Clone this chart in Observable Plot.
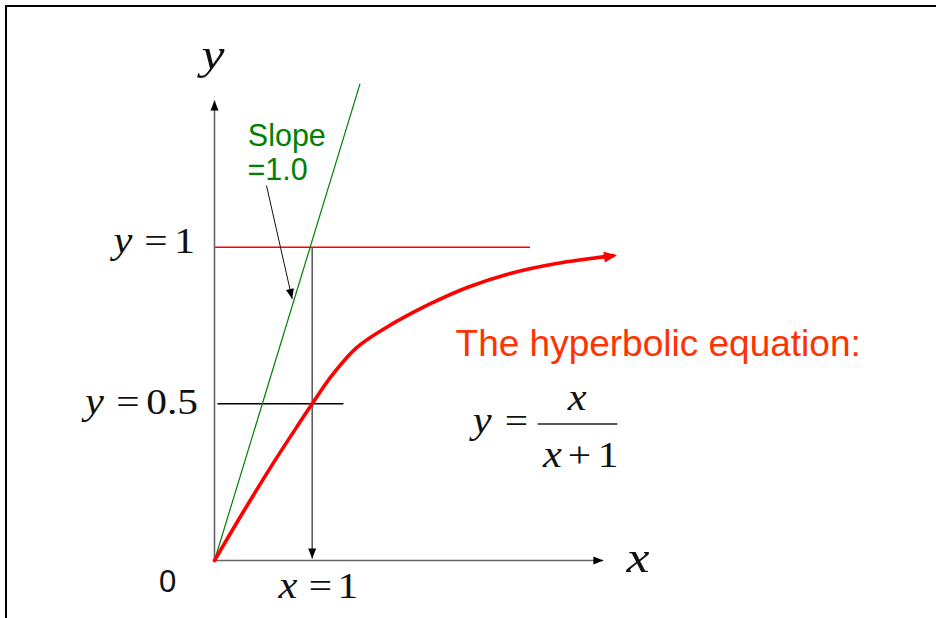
<!DOCTYPE html>
<html>
<head>
<meta charset="utf-8">
<script src="https://cdn.jsdelivr.net/npm/d3@7"></script>
<script src="https://cdn.jsdelivr.net/npm/@observablehq/plot@0.6"></script>
<style>
  html, body { margin: 0; padding: 0; background: white; }
  #wrap { position: relative; width: 936px; height: 618px; overflow: hidden; }
  #frame { position: absolute; left: 5px; top: 5px; width: 940px; height: 620px;
           border-top: 2px solid #000; border-left: 2px solid #000; pointer-events: none; }
  #chart { position: absolute; left: 0; top: 0; }
</style>
</head>
<body>
<div id="wrap"><div id="chart"></div><div id="frame"></div></div>
<script>
// ---- data ----
// hand-drawn hyperbolic curve y = x/(x+1) as sketched
const curveX = [0, 0.3, 0.6, 0.85, 1.0, 1.2, 1.45, 1.75, 2.2, 2.6, 3.0, 3.5, 4.08];
const curveY = [0, 0.158, 0.31, 0.43, 0.5, 0.59, 0.678, 0.742, 0.818, 0.873, 0.914, 0.948, 0.973];

// straight segments [x1, y1, x2, y2]
const axisSegs   = [[0, 0, 0, 1.468], [0, 0, 3.98, 0]];
const dropSeg    = [[1, 1, 1, 0.006]];
const asymptote  = [[0, 1, 3.23, 1]];
const halfLine   = [[0.03, 0.5, 1.32, 0.5]];
const slopeLine  = [[0, 0, 1.49, 1.522]];
const pointerSeg = [[0.532, 1.197, 0.795, 0.835]];

// arrow heads: tip x, tip y, direction (degrees clockwise from up)
const blackHeads = [[0, 1.468, 0], [3.98, 0, 90], [1, 0.006, 180], [0.795, 0.835, 167]];
const redHeads   = [[4.12, 0.974, 82]];

// math labels: text, x, y (baseline)
const mathItalic = [
  ["y", -0.937, 0.98], ["y", -1.228, 0.468], ["x", 0.752, -0.121],
  ["y", 2.74, 0.4085], ["x", 3.712, 0.481], ["x", 3.46, 0.298]
];
const mathRoman = [
  ["=", -0.599, 0.98], ["1", -0.307, 0.98],
  ["=", -0.885, 0.468], ["0.5", -0.433, 0.468],
  ["=", 1.085, -0.121], ["1", 1.366, -0.121],
  ["=", 3.091, 0.4085], ["+", 3.736, 0.298], ["1", 4.028, 0.298]
];
const axisNames = [["y", -0.015, 1.570], ["x", 4.335, -0.037]];
const fractionBar = [[3.309, 0.436, 4.122, 0.436]];
const originLabel = [["0", -0.481, -0.101]];
const slopeLabel = [["Slope", 0.341, 1.3246], ["=1.0", 0.338, 1.2129]];
const eqTitle = [["The hyperbolic equation:", 2.467, 0.6543]];

// ---- build ----
const curve = curveX.map((x, i) => ({x, y: curveY[i]}));
const seg = (arr) => arr.map(([x1, y1, x2, y2]) => ({x1, y1, x2, y2}));
const heads = (arr) => arr.map(([x, y, r]) => ({x, y, r}));
const labels = (arr) => arr.map(([text, x, y]) => ({text, x, y}));

const arrowHead = (len, half) => ({
  draw(ctx) { ctx.moveTo(0, 0); ctx.lineTo(-half, len); ctx.lineTo(half, len); ctx.closePath(); }
});

const serif = "Liberation Serif, Times New Roman, serif";
const sans = "Liberation Sans, Arial, sans-serif";

const linkMark = (arr, stroke, w) => Plot.link(seg(arr), {x1: "x1", y1: "y1", x2: "x2", y2: "y2", stroke, strokeWidth: w});

const plot = Plot.plot({
  width: 936,
  height: 618,
  margin: 0,
  style: {background: "transparent", overflow: "visible"},
  x: {domain: [0, 1], range: [214, 311.7], axis: null},
  y: {domain: [0, 1], range: [560, 246.7], axis: null},
  marks: [
    linkMark(asymptote, "#ff0000", 1.5),
    linkMark(axisSegs, "#666", 1.6),
    linkMark(dropSeg, "#555", 1.5),
    linkMark(halfLine, "#000", 1.5),
    linkMark(slopeLine, "#008000", 1.2),
    linkMark(pointerSeg, "#111", 1),
    Plot.line(curve, {x: "x", y: "y", stroke: "#ff0000", strokeWidth: 3.6, curve: "catmull-rom", strokeLinecap: "round"}),
    Plot.dot(heads(blackHeads), {x: "x", y: "y", rotate: "r", symbol: arrowHead(10, 4), fill: "#000", stroke: "none"}),
    Plot.dot(heads(redHeads), {x: "x", y: "y", rotate: "r", symbol: arrowHead(13, 5.5), fill: "#ff0000", stroke: "none"}),
    linkMark(fractionBar, "#222", 1.5),
    Plot.text(labels(axisNames), {x: "x", y: "y", text: "text", fontFamily: serif, fontStyle: "italic", fontSize: 45, fill: "#111", textAnchor: "middle", lineAnchor: "bottom"}),
    Plot.text(labels(mathItalic), {x: "x", y: "y", text: "text", fontFamily: serif, fontStyle: "italic", fontSize: 37, fill: "#111", textAnchor: "middle", lineAnchor: "bottom"}),
    Plot.text(labels(mathRoman), {x: "x", y: "y", text: "text", fontFamily: serif, fontSize: 36, fill: "#111", textAnchor: "middle", lineAnchor: "bottom"}),
    Plot.text(labels(originLabel), {x: "x", y: "y", text: "text", fontFamily: sans, fontSize: 31, fill: "#111", textAnchor: "middle", lineAnchor: "bottom"}),
    Plot.text(labels(slopeLabel), {x: "x", y: "y", text: "text", fontFamily: sans, fontSize: 30.5, fill: "#008000", textAnchor: "start", lineAnchor: "bottom"}),
    Plot.text(labels(eqTitle), {x: "x", y: "y", text: "text", fontFamily: sans, fontSize: 37, fill: "#ff3300", textAnchor: "start", lineAnchor: "bottom"})
  ]
});

// the slide's math glyphs are horizontally stretched: widen serif text around its anchor
d3.select(plot).selectAll("g[font-family^='Liberation Serif'] text").each(function () {
  const t = this.getAttribute("transform");
  if (t) {
    this.setAttribute("transform", t + " scale(1.15,1)");
  } else {
    const x = +this.getAttribute("x") || 0, y = +this.getAttribute("y") || 0;
    this.setAttribute("transform", `translate(${x},${y}) scale(1.15,1) translate(${-x},${-y})`);
  }
});

document.getElementById("chart").appendChild(plot);
</script>
</body>
</html>
